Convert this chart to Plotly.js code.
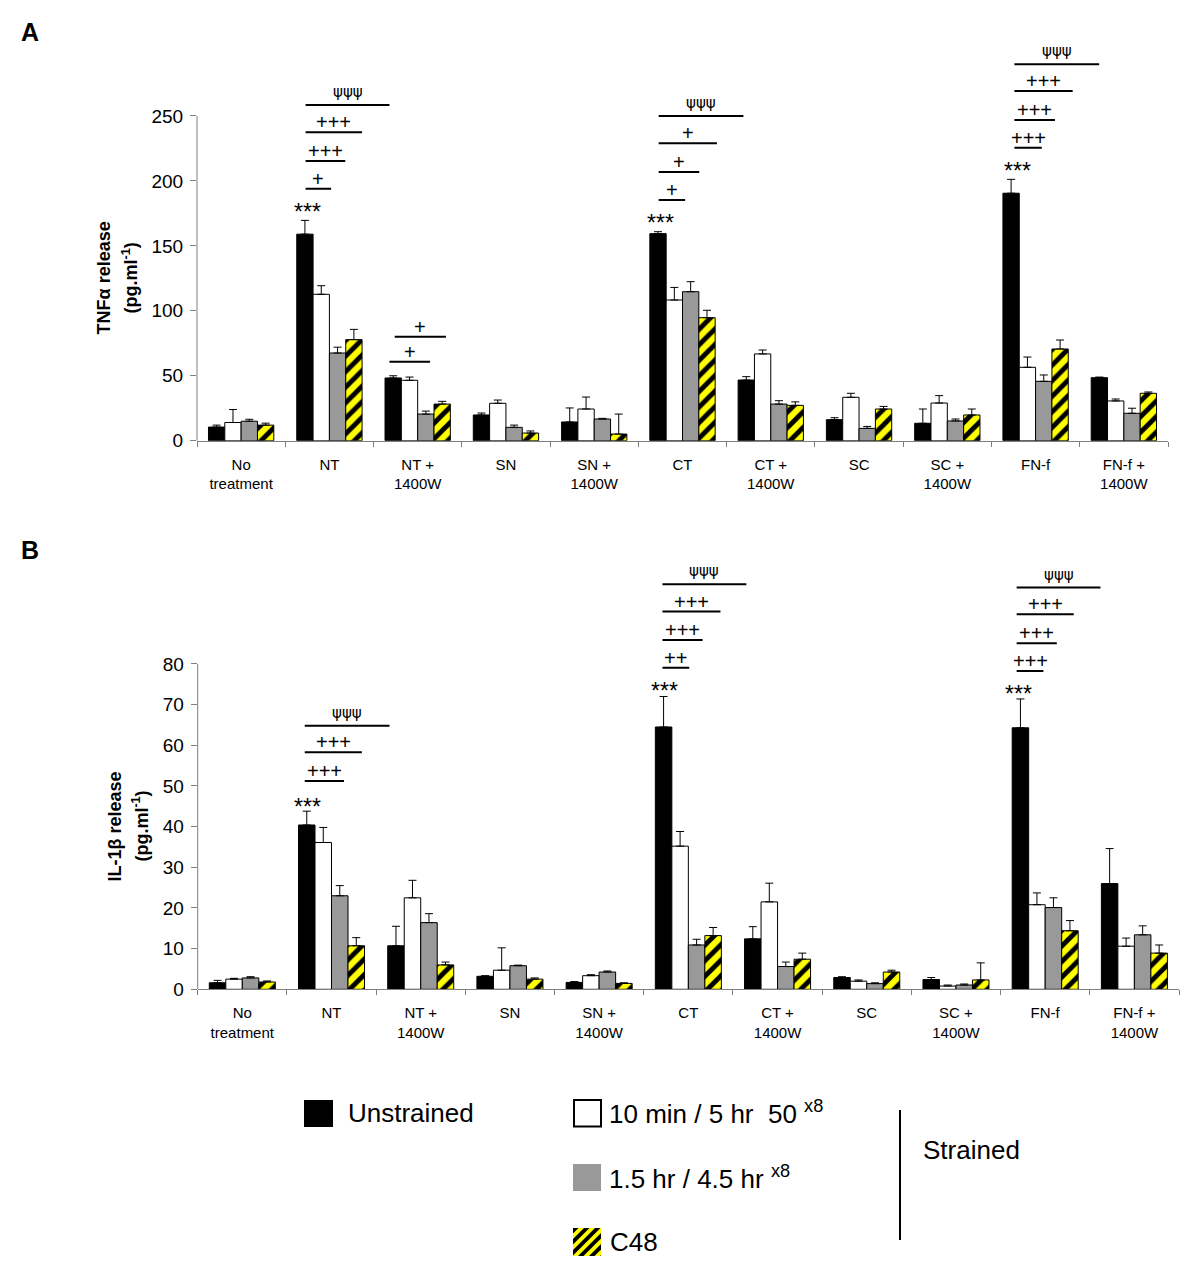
<!DOCTYPE html>
<html>
<head>
<meta charset="utf-8">
<script src="https://cdn.plot.ly/plotly-3.0.1.min.js"></script>
<style>html,body{margin:0;padding:0;background:#fff;}#chart{width:1200px;height:1274px;}</style>
</head>
<body>
<div id="chart"></div>
<script>
// ---------------- data ----------------
const categories = ['No<br>treatment', 'NT', 'NT +<br>1400W', 'SN', 'SN +<br>1400W', 'CT', 'CT +<br>1400W', 'SC', 'SC +<br>1400W', 'FN-f', 'FN-f +<br>1400W'];
const seriesNames = ['Unstrained', '10 min / 5 hr 50 x8', '1.5 hr / 4.5 hr x8', 'C48'];

// Panel A: TNF-alpha release (pg/ml) — mean and upper error (SEM)
const tnfUnstrained    = [10.5, 159.0, 48.3, 19.8, 14.4, 159.4, 46.7, 16.2, 13.4, 190.5, 48.5];
const tnfUnstrainedErr = [1.5, 10.6, 1.7, 1.5, 10.8, 1.5, 2.6, 1.5, 11.0, 10.7, 0.5];
const tnf10min         = [14.0, 112.7, 46.5, 28.8, 24.4, 108.3, 66.8, 33.4, 29.0, 56.5, 30.6];
const tnf10minErr      = [10.0, 6.6, 2.5, 2.5, 9.2, 9.7, 3.0, 3.1, 5.7, 7.9, 1.5];
const tnf15hr          = [15.0, 67.5, 20.5, 10.3, 16.7, 114.7, 28.2, 9.5, 15.2, 45.7, 21.1];
const tnf15hrErr       = [1.5, 4.5, 2.3, 1.7, 0.5, 7.7, 2.6, 1.5, 1.5, 4.9, 3.9];
const tnfC48           = [12.0, 77.8, 28.2, 5.9, 5.1, 94.7, 27.2, 24.4, 19.8, 70.6, 36.5];
const tnfC48Err        = [1.5, 7.9, 2.1, 1.6, 15.4, 5.7, 2.7, 2.0, 4.6, 6.9, 1.0];

// Panel B: IL-1beta release (pg/ml)
const il1Unstrained    = [1.6, 40.4, 10.7, 3.2, 1.7, 64.5, 12.4, 2.9, 2.4, 64.3, 26.0];
const il1UnstrainedErr = [0.6, 3.4, 4.8, 0.15, 0.2, 7.5, 3.0, 0.2, 0.5, 7.1, 8.6];
const il1_10min        = [2.5, 36.1, 22.5, 4.7, 3.35, 35.2, 21.5, 2.0, 0.8, 20.8, 10.6];
const il1_10minErr     = [0.2, 3.7, 4.3, 5.5, 0.25, 3.6, 4.6, 0.3, 0.25, 2.9, 2.0];
const il1_15hr         = [2.8, 23.0, 16.4, 5.8, 4.25, 10.9, 5.6, 1.4, 1.05, 20.1, 13.4];
const il1_15hrErr      = [0.3, 2.5, 2.2, 0.15, 0.25, 1.4, 1.1, 0.2, 0.25, 2.4, 2.2];
const il1C48           = [1.8, 10.7, 6.0, 2.5, 1.45, 13.2, 7.4, 4.25, 2.3, 14.4, 8.9];
const il1C48Err        = [0.25, 2.0, 0.7, 0.3, 0.15, 2.0, 1.5, 0.45, 4.2, 2.5, 2.0];

const tnfTicks = [0, 50, 100, 150, 200, 250];
const il1Ticks = [0, 10, 20, 30, 40, 50, 60, 70, 80];

// significance marks: [category index, line start offset, line end offset, value, label]
const sigA = [
  [1, -0.27, 0.02, 194.0, '+'], [1, -0.27, 0.18, 215.3, '+++'], [1, -0.27, 0.37, 237.4, '+++'], [1, -0.27, 0.68, 258.4, 'ψψψ'],
  [2, -0.32, 0.14, 60.8, '+'], [2, -0.26, 0.32, 80.1, '+'],
  [5, -0.27, 0.03, 185.3, '+'], [5, -0.27, 0.19, 206.9, '+'], [5, -0.27, 0.39, 229.0, '+'], [5, -0.27, 0.69, 250.0, 'ψψψ'],
  [9, -0.24, 0.07, 225.6, '+++'], [9, -0.24, 0.22, 246.9, '+++'], [9, -0.24, 0.42, 269.2, '+++'], [9, -0.24, 0.72, 289.8, 'ψψψ']
];
const starsA = [[1, -0.25, 180.1], [5, -0.25, 171.7], [9, -0.21, 211.7]];
const sigB = [
  [1, -0.30, 0.14, 51.2, '+++'], [1, -0.30, 0.34, 58.3, '+++'], [1, -0.30, 0.65, 64.8, 'ψψψ'],
  [5, -0.29, 0.01, 79.1, '++'], [5, -0.29, 0.16, 85.9, '+++'], [5, -0.29, 0.36, 92.9, '+++'], [5, -0.29, 0.65, 99.6, 'ψψψ'],
  [9, -0.32, -0.02, 78.3, '+++'], [9, -0.32, 0.13, 85.1, '+++'], [9, -0.32, 0.32, 92.2, '+++'], [9, -0.32, 0.62, 98.8, 'ψψψ']
];
const starsB = [[1, -0.27, 46.0], [5, -0.27, 74.6], [9, -0.30, 73.8]];

// ---------------- styling ----------------
const W = 1200, H = 1274;
const FONT = 'Liberation Sans, Arial, Helvetica, sans-serif';
const px = v => v / W;            // pixel -> paper x
const py = v => 1 - v / H;        // pixel -> paper y
const GRAY_AXIS = '#7f7f7f';

const styles = [
  {color: '#000000'},
  {color: '#ffffff'},
  {color: '#999999'},
  {color: '#ffff00', pattern: {shape: '/', fgcolor: '#000000', bgcolor: '#ffff00', size: 11, solidity: 0.45}}
];

function barTrace(name, vals, errs, idx, xa, ya) {
  const m = {color: styles[idx].color, line: {color: '#000000', width: 1}};
  if (styles[idx].pattern) m.pattern = styles[idx].pattern;
  return {
    type: 'bar', name: name, x: categories, y: vals, xaxis: xa, yaxis: ya,
    marker: m, showlegend: false, hoverinfo: 'skip',
    error_y: {type: 'data', symmetric: false, array: errs, arrayminus: vals.map(() => 0),
              color: '#000000', thickness: 1, width: 4}
  };
}

const data = [
  barTrace(seriesNames[0], tnfUnstrained, tnfUnstrainedErr, 0, 'x', 'y'),
  barTrace(seriesNames[1], tnf10min, tnf10minErr, 1, 'x', 'y'),
  barTrace(seriesNames[2], tnf15hr, tnf15hrErr, 2, 'x', 'y'),
  barTrace(seriesNames[3], tnfC48, tnfC48Err, 3, 'x', 'y'),
  barTrace(seriesNames[0], il1Unstrained, il1UnstrainedErr, 0, 'x2', 'y2'),
  barTrace(seriesNames[1], il1_10min, il1_10minErr, 1, 'x2', 'y2'),
  barTrace(seriesNames[2], il1_15hr, il1_15hrErr, 2, 'x2', 'y2'),
  barTrace(seriesNames[3], il1C48, il1C48Err, 3, 'x2', 'y2')
];

const shapes = [];
const annotations = [];

// y axis lines limited to the tick range
shapes.push({type: 'line', xref: 'paper', yref: 'y', x0: px(197), x1: px(197), y0: 0, y1: 250, line: {color: GRAY_AXIS, width: 1}});
shapes.push({type: 'line', xref: 'paper', yref: 'y2', x0: px(197.7), x1: px(197.7), y0: 0, y1: 80, line: {color: GRAY_AXIS, width: 1}});

function addSig(list, stars, xa, ya) {
  list.forEach(s => {
    const [c, a, b, v, lab] = s;
    shapes.push({type: 'line', xref: xa, yref: ya, x0: c + a, x1: c + b, y0: v, y1: v, line: {color: '#000000', width: 2}});
    const psi = lab.indexOf('ψ') >= 0;
    annotations.push({xref: xa, yref: ya, x: c + (a + b) / 2, y: v, text: lab, showarrow: false,
      yanchor: 'middle', xanchor: 'center', yshift: psi ? 13 : 10,
      font: {family: psi ? 'DejaVu Sans, sans-serif' : FONT, size: psi ? 15 : 20, color: '#000'}});
  });
  stars.forEach(s => {
    const [c, o, v] = s;
    annotations.push({xref: xa, yref: ya, x: c + o, y: v, text: '***', showarrow: false,
      yanchor: 'middle', xanchor: 'center', yshift: -5, font: {family: FONT, size: 23, color: '#000'}});
  });
}
addSig(sigA, starsA, 'x', 'y');
addSig(sigB, starsB, 'x2', 'y2');

function textPx(x, y, t, size, opts) {
  annotations.push(Object.assign({xref: 'paper', yref: 'paper', x: px(x), y: py(y), xanchor: 'center', yanchor: 'middle',
    showarrow: false, text: t, font: {family: FONT, size: size, color: '#000'}}, opts || {}));
}

// axis titles (one rotated annotation per line)
textPx(104, 278.4, '<b>TNFα release</b>', 18, {textangle: -90});
textPx(130, 278.4, '<b>(pg.ml<sup>-1</sup>)</b>', 18, {textangle: -90});
textPx(115, 826.6, '<b>IL-1β release</b>', 18, {textangle: -90});
textPx(141, 826.6, '<b>(pg.ml<sup>-1</sup>)</b>', 18, {textangle: -90});

// panel letters
textPx(30, 32, '<b>A</b>', 25);
textPx(30, 550, '<b>B</b>', 25);

// ---------------- legend (drawn) ----------------
function rectPx(x0, y0, x1, y1, fill, line) {
  shapes.push({type: 'rect', xref: 'paper', yref: 'paper', x0: px(x0), x1: px(x1), y0: py(y1), y1: py(y0),
    fillcolor: fill, line: line ? {color: line, width: 2} : {width: 0}});
}
function legText(x, y, t) {
  textPx(x, y, t, 26, {xanchor: 'left'});
}
rectPx(304, 1100, 333, 1127, '#000000', null);
legText(346, 1113, seriesNames[0]);
rectPx(574, 1100, 601, 1126.5, '#ffffff', '#000000');
legText(607, 1112, '10 min / 5 hr\u00a0 50 <sup>x8</sup>');
rectPx(573, 1164, 601, 1191, '#999999', null);
legText(607, 1177, '1.5 hr / 4.5 hr <sup>x8</sup>');
rectPx(573, 1228, 601, 1256, '#ffff00', null);
legText(608, 1242, seriesNames[3]);
// hatch stripes inside C48 swatch
(function () {
  const sq = [[573, 1228], [601, 1228], [601, 1256], [573, 1256]];
  function clip(poly, f) { // keep f(p) >= 0
    const out = [];
    for (let i = 0; i < poly.length; i++) {
      const p = poly[i], q = poly[(i + 1) % poly.length];
      const fp = f(p), fq = f(q);
      if (fp >= 0) out.push(p);
      if ((fp >= 0) !== (fq >= 0)) {
        const t = fp / (fp - fq);
        out.push([p[0] + t * (q[0] - p[0]), p[1] + t * (q[1] - p[1])]);
      }
    }
    return out;
  }
  const period = 11, w = 5.5;
  for (let c = 573 + 1228 - 22; c < 601 + 1256 + 11; c += period) {
    let poly = clip(sq, p => p[0] + p[1] - c);
    poly = clip(poly, p => c + w - (p[0] + p[1]));
    if (poly.length < 3) continue;
    const path = 'M' + poly.map(p => px(p[0]) + ',' + py(p[1])).join('L') + 'Z';
    shapes.push({type: 'path', xref: 'paper', yref: 'paper', path: path, fillcolor: '#000000', line: {width: 0}});
  }
})();
shapes.push({type: 'line', xref: 'paper', yref: 'paper', x0: px(900), x1: px(900), y0: py(1110), y1: py(1240), line: {color: '#000000', width: 2}});
legText(921, 1150, 'Strained');

// ---------------- axes ----------------
function xAxis(domain, anchor) {
  return {domain: domain, anchor: anchor, type: 'category', showline: true, linecolor: GRAY_AXIS, linewidth: 1,
    ticks: 'outside', tickson: 'boundaries', ticklen: 5, tickcolor: GRAY_AXIS, showgrid: false, zeroline: false,
    tickfont: {family: FONT, size: 15, color: '#000'}, ticklabelstandoff: 10, fixedrange: true, automargin: false};
}
function yAxis(domain, anchor, range, ticks) {
  return {domain: domain, anchor: anchor, range: range, tickvals: ticks, ticktext: ticks.map(String),
    showline: false, ticks: 'outside', ticklen: 6, tickcolor: GRAY_AXIS, showgrid: false, zeroline: false,
    tickfont: {family: FONT, size: 19, color: '#000'}, ticklabelstandoff: 3, fixedrange: true, automargin: false};
}

const layout = {
  width: W, height: H, margin: {l: 0, r: 0, t: 0, b: 0}, paper_bgcolor: '#fff', plot_bgcolor: 'rgba(0,0,0,0)',
  barmode: 'group', bargap: 0.26, bargroupgap: 0, showlegend: false,
  font: {family: FONT, color: '#000'},
  xaxis: xAxis([197 / W, 1168 / W], 'y'),
  yaxis: yAxis([1 - 440.7 / H, 1 - 38 / H], 'x', [0, 310], tnfTicks),
  xaxis2: xAxis([197.7 / W, 1179 / W], 'y2'),
  yaxis2: yAxis([1 - 989.3 / H, 1 - 550.1 / H], 'x2', [0, 108], il1Ticks),
  shapes: shapes, annotations: annotations
};

Plotly.newPlot('chart', data, layout, {staticPlot: true, displayModeBar: false});
</script>
</body>
</html>
